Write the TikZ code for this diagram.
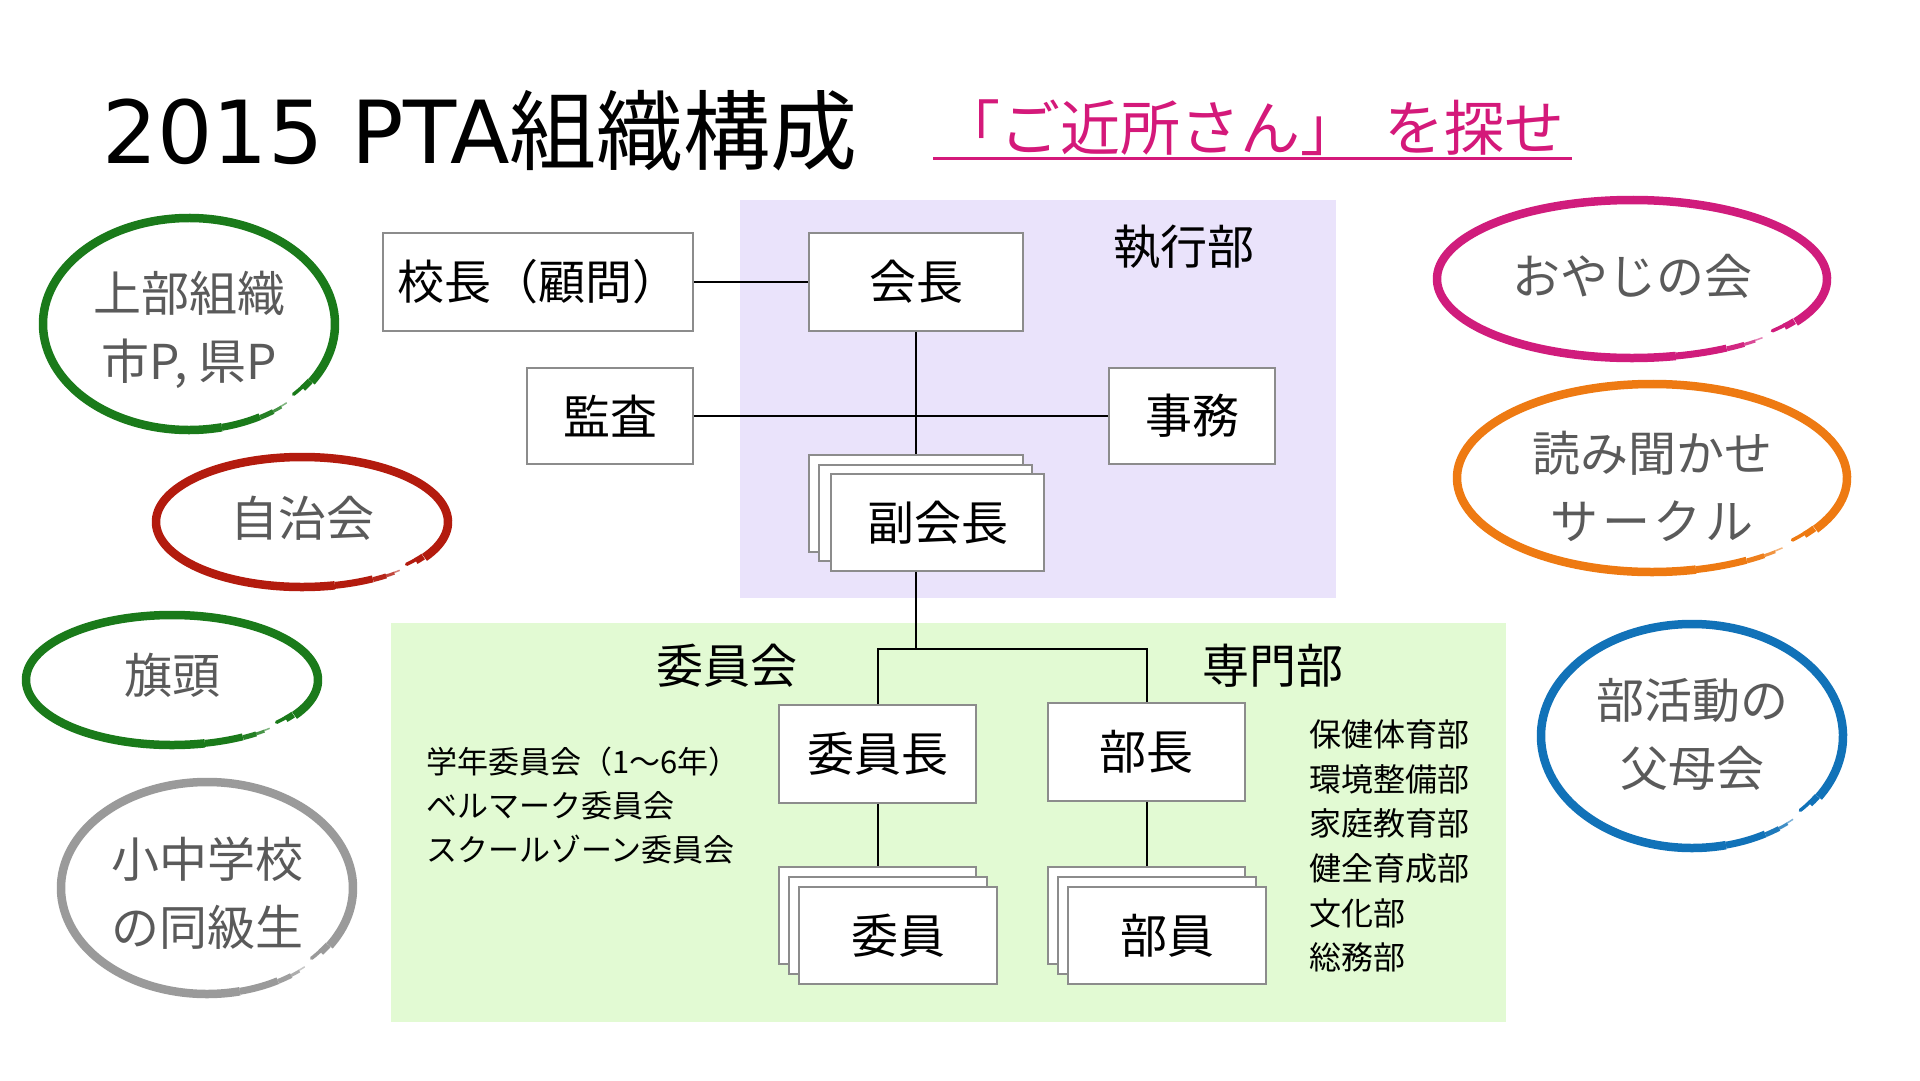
\documentclass[tikz,border=0pt]{standalone}
\usepackage{fontspec}
\setmainfont{Noto Sans CJK JP}
\newfontfamily\latintitle{DejaVu Sans}
\usetikzlibrary{calc}
\definecolor{boxgray}{HTML}{8C8C8C}
\definecolor{purplebg}{HTML}{EAE3FB}
\definecolor{greenbg}{HTML}{E2FAD3}
\definecolor{ringgreen}{HTML}{1A7A1A}
\definecolor{ringred}{HTML}{B31B0E}
\definecolor{ringgray}{HTML}{9A9A9A}
\definecolor{ringpink}{HTML}{D01C7C}
\definecolor{ringorange}{HTML}{EE7A12}
\definecolor{ringblue}{HTML}{1172B8}
\definecolor{ringtxt}{HTML}{5A5A5A}
\definecolor{subpink}{HTML}{D4197A}
% #1 centre, #2 x radius, #3 y radius, #4 colour
\newcommand\ringpiece[8]{% centre, rx, ry, colour, start, end, width, opacity
  \draw[#4, line width=#7pt, opacity=#8] #1 ++(#5:#2 and #3) arc[start angle=#5, end angle=#6, x radius=#2, y radius=#3];}
\newcommand\brushring[4]{%
  \pgfmathsetmacro\rxm{#2-1.5}\pgfmathsetmacro\rym{#3-1.5}%
  \pgfmathsetmacro\rxn{#2-3}\pgfmathsetmacro\ryn{#3-3}%
  \pgfmathsetmacro\rxp{#2+0.8}\pgfmathsetmacro\ryp{#3+0.8}%
  \ringpiece{#1}{#2}{#3}{#4}{33}{-283}{8.5}{1}
  \ringpiece{#1}{\rxm}{\rym}{#4}{38}{33}{6.5}{1}
  \draw[#4, line width=3.5pt, line cap=round] #1 ++(43:\rxn\space and \ryn) arc[start angle=43, end angle=37, x radius=\rxn, y radius=\ryn];
  \ringpiece{#1}{#2}{#3}{#4}{-283}{-299}{7}{1}
  \ringpiece{#1}{\rxp}{\ryp}{#4}{-299}{-305}{5}{.95}
  \ringpiece{#1}{\rxp}{\ryp}{#4}{-305}{-309}{3}{.8}
  \ringpiece{#1}{#2}{#3}{#4}{-309}{-312}{1.5}{.55}
}
\begin{document}
\begin{tikzpicture}[x=1pt,y=-1pt,
  box/.style={draw=boxgray, line width=1.6pt, fill=white, inner sep=0pt,
    font=\fontsize{47}{47}\selectfont},
  conn/.style={draw=black, line width=2pt},
  label/.style={inner sep=0pt, font=\fontsize{47}{47}\selectfont},
  ringtext/.style={text=ringtxt, align=center, inner sep=0pt,
    font=\fontsize{48}{68}\selectfont},
  listtext/.style={anchor=west, align=left, inner sep=0pt}
]
\useasboundingbox (0,0) rectangle (1920,1080);
\fill[white] (0,0) rectangle (1920,1080);

% backgrounds
\fill[purplebg] (740,200) rectangle (1336,598);
\fill[greenbg] (391,623) rectangle (1506,1022);

% title
\node[anchor=base west, inner sep=0pt, font=\fontsize{87}{87}\selectfont] (title) at (102,163) {{\latintitle 2015 PTA}組織構成};
\node[anchor=base west, inner sep=0pt, text=subpink, font=\fontsize{60}{60}\selectfont] (sub) at (940,150) {「ご近所さん」\hspace{0.4em}を探せ};
\draw[subpink, line width=2.5pt] ($(sub.south west)+(-7,3)$) -- ($(sub.south east)+(8,3)$);

% rings
\brushring{(189,324)}{146}{106}{ringgreen}
\brushring{(302,522)}{146}{65}{ringred}
\brushring{(172,680)}{146}{65}{ringgreen}
\brushring{(207,888)}{146}{106}{ringgray}
\brushring{(1632,279)}{195}{79}{ringpink}
\brushring{(1652,478)}{195}{94}{ringorange}
\brushring{(1692,736)}{151}{112}{ringblue}

\node[ringtext] (rjobu) at (189,330) {上部組織\\市P, 県P};
\node[ringtext] (rjichi) at (302,518) {自治会};
\node[ringtext] (rhata) at (172,675) {旗頭};
\node[ringtext] (rdokyu) at (207,893) {小中学校\\の同級生};
\node[ringtext] (roya) at (1632,276) {おやじの会};
\node[ringtext] (ryomi) at (1652,486) {読み聞かせ\\サ\hspace{0.08em}ー\hspace{0.08em}ク\hspace{0.08em}ル};
\node[ringtext] (rbukatsu) at (1692,734) {部活動の\\父母会};

% labels
\node[label] (shikko) at (1184,247) {執行部};
\node[label] (iinkai) at (727,666) {委員会};
\node[label] (senmon) at (1273,666) {専門部};

% boxes
\node[box, minimum width=310pt, minimum height=98pt] (kocho) at (538,282) {校長（顧問）};
\node[box, minimum width=214pt, minimum height=98pt] (kaicho) at (916,282) {会長};
\node[box, minimum width=166pt, minimum height=96pt] (kansa) at (610,416) {監査};
\node[box, minimum width=166pt, minimum height=96pt] (jimu) at (1192,416) {事務};
\node[box, minimum width=214pt, minimum height=97pt] (fukuC) at (916,503.5) {};
\node[box, minimum width=213pt, minimum height=96pt] (fukuB) at (925.5,513) {};
\node[box, minimum width=213pt, minimum height=97pt] (fuku) at (937.5,522.5) {副会長};

\node[box, minimum width=197pt, minimum height=98pt] (iinchou) at (877.5,754) {委員長};
\node[box, minimum width=197pt, minimum height=98pt] (bucho) at (1146.5,752) {部長};
\node[box, minimum width=197pt, minimum height=97pt] (iinC) at (877.5,915.5) {};
\node[box, minimum width=198pt, minimum height=97pt] (iinB) at (888,925.5) {};
\node[box, minimum width=198pt, minimum height=97pt] (iin) at (898,935.5) {委員};
\node[box, minimum width=197pt, minimum height=97pt] (buinC) at (1146.5,915.5) {};
\node[box, minimum width=198pt, minimum height=97pt] (buinB) at (1157,925.5) {};
\node[box, minimum width=198pt, minimum height=97pt] (buin) at (1167,935.5) {部員};

% connectors
\coordinate (j) at (916,649);
\draw[conn] (kocho.east) -- (kaicho.west);
\draw[conn] (kansa.east) -- (jimu.west);
\draw[conn] (kaicho.south) -- (fukuC.north);
\draw[conn] (fuku.south -| kaicho.south) -- (j);
\draw[conn] (iinchou.north) |- (j) -| (bucho.north);
\draw[conn] (iinchou.south) -- (iinC.north);
\draw[conn] (bucho.south) -- (buinC.north);

% lists
\node[listtext, font=\fontsize{31}{44}\selectfont] (ilist) at (426,806) {学年委員会（1〜6年）\\ベルマーク委員会\\スクールゾーン委員会};
\node[listtext, font=\fontsize{32}{44.6}\selectfont] (blist) at (1309,846) {保健体育部\\環境整備部\\家庭教育部\\健全育成部\\文化部\\総務部};
\end{tikzpicture}
\end{document}
